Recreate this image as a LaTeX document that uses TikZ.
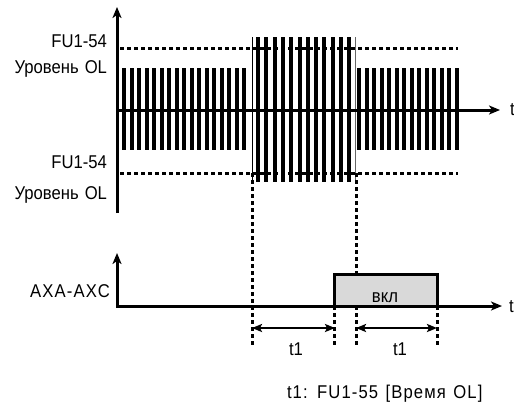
\documentclass[tikz,border=0pt]{standalone}
\usepackage{fontspec}
\setmainfont{Liberation Sans}[FakeStretch=0.9, WordSpace=1.3]
\usetikzlibrary{arrows.meta}
\begin{document}
\begin{tikzpicture}[x=1pt,y=-1pt,
  lbl/.style={font=\fontsize{18.5}{21}\selectfont, inner sep=0pt, outer sep=0pt},
  widelbl/.style={lbl, font=\fontsize{18.5}{21}\selectfont\addfontfeature{LetterSpace=#1}},
  axisline/.style={line width=3pt, -{Stealth[length=11pt,width=9pt,inset=3pt]}},
  dotline/.style={line width=3pt, dash pattern=on 3.5pt off 3.5pt},
  dimline/.style={line width=2.5pt, {Stealth[length=10pt,width=8pt,inset=2pt]}-{Stealth[length=10pt,width=8pt,inset=2pt]}},
  pulse/.style={line width=3pt, fill=black!15, line join=miter}
]
\useasboundingbox (0,0) rectangle (514,405);
% coordinates
\coordinate (ubot) at (117,213);
\coordinate (utop) at (117,7);
\coordinate (uorig) at (117,110);
\coordinate (uend) at (500,110);
\coordinate (ltop) at (117,253);
\coordinate (lorig) at (117,306);
\coordinate (lend) at (502,306);
\coordinate (d1s) at (120,48);  \coordinate (d1e) at (458,48);
\coordinate (d2s) at (120,173); \coordinate (d2e) at (458,173);
\coordinate (v1t) at (252,173); \coordinate (v1b) at (252,348);
\coordinate (v2t) at (356,173); \coordinate (v2b) at (356,348);
\coordinate (v3t) at (334,306); \coordinate (v3b) at (334,348);
\coordinate (v4t) at (437,306); \coordinate (v4b) at (437,348);
\coordinate (a1s) at (252,328); \coordinate (a1e) at (335,328);
\coordinate (a2s) at (356,328); \coordinate (a2e) at (437,328);
\coordinate (p1) at (334,306); \coordinate (p2) at (437,274);
% dotted levels
\draw[dotline] (d1s) -- (d1e);
\draw[dotline] (d2s) -- (d2e);
% bars
\foreach \i in {0,...,16} \fill (122+7.5*\i,68) rectangle ++(4,82);
\foreach \i in {0,...,11} \fill (256+8.3*\i,37) rectangle ++(4,145);
\draw[line width=1pt] (252,37) -- (252,182);
\draw[line width=1pt, black!60] (355,37) -- (355,182);
\foreach \i in {0,...,13} \fill (357+7.5*\i,68) rectangle ++(4,82);
% upper axes
\draw[axisline] (ubot) -- (utop);
\draw[axisline] (uorig) -- (uend);
% vertical dotted
\draw[dotline] (v1t) -- (v1b);
\draw[dotline] (v2t) -- (v2b);
\draw[dotline] (v3t) -- (v3b);
\draw[dotline] (v4t) -- (v4b);
% pulse
\draw[pulse] (p1) rectangle (p2);
\node[lbl, anchor=base] (on) at (385,302) {вкл};
% lower axes
\draw[line width=3pt, line join=miter, {Stealth[length=11pt,width=9pt,inset=3pt]}-{Stealth[length=11pt,width=9pt,inset=3pt]}] (ltop) -- (lorig) -- (lend);
% dimension arrows
\draw[dimline] (a1s) -- (a1e);
\draw[dimline] (a2s) -- (a2e);
% labels
\node[lbl, anchor=base east] (f1) at (107,47) {FU1-54};
\node[lbl, anchor=base east] (o1) at (107,73) {Уровень OL};
\node[lbl, anchor=base east] (f2) at (107,168) {FU1-54};
\node[lbl, anchor=base east] (o2) at (107,199) {Уровень OL};
\node[widelbl=6, anchor=base east] (axc) at (110,297) {AXA-AXC};
\node[lbl, anchor=base west] (t1) at (510,115) {t};
\node[lbl, anchor=base west] (t2) at (509,312) {t};
\node[lbl, anchor=base] (l1) at (296,355) {t1};
\node[lbl, anchor=base] (l2) at (400,355) {t1};
\node[widelbl=6, anchor=base west] (note) at (287,398) {t1: FU1-55 [Время OL]};
\end{tikzpicture}
\end{document}
